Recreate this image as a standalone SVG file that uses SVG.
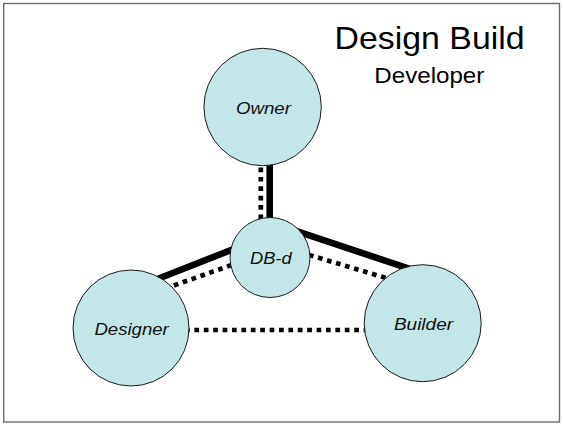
<svg xmlns="http://www.w3.org/2000/svg" width="563" height="424" viewBox="0 0 563 424">
  <style>
    .frame { fill: #ffffff; stroke: #6e6e6e; stroke-width: 1.4; }
    .node circle { fill: #c5e6e9; stroke: #1a1a1a; stroke-width: 1; }
    .node text { font-family: "Liberation Sans", Arial, sans-serif; font-style: italic; font-size: 17px; fill: #111111; text-anchor: middle; }
    .solid { stroke: #000000; stroke-width: 6.6; fill: none; }
    .dotted { stroke: #000000; stroke-width: 4.7; stroke-dasharray: 4.7 4.7; fill: none; }
    .title { font-family: "Liberation Sans", Arial, sans-serif; fill: #000000; text-anchor: middle; }
  </style>

  <rect class="frame" x="3.7" y="3.5" width="555.8" height="418.5"/>

  <!-- titles -->
  <text class="title" x="429.6" y="49.3" font-size="30.5" textLength="190" lengthAdjust="spacingAndGlyphs">Design Build</text>
  <text class="title" x="429.3" y="83" font-size="22" textLength="110" lengthAdjust="spacingAndGlyphs">Developer</text>

  <!-- relationship lines, drawn beneath the circles -->
  <g id="connectors">
    <line class="solid" x1="269.7" y1="150" x2="269.7" y2="232"/>
    <line class="dotted" x1="260.8" y1="167.5" x2="260.8" y2="232"/>
    <line class="solid" x1="155" y1="280" x2="240" y2="246.5"/>
    <line class="dotted" x1="165" y1="288.6" x2="240" y2="262"/>
    <line class="solid" x1="295" y1="230.7" x2="415" y2="270.6"/>
    <line class="dotted" x1="300" y1="252.2" x2="395" y2="280.7"/>
    <line class="dotted" x1="185" y1="330" x2="375" y2="330"/>
  </g>

  <g id="owner" class="node">
    <circle cx="262.6" cy="107" r="58.7"/>
    <text x="263.4" y="114.3" textLength="55" lengthAdjust="spacingAndGlyphs">Owner</text>
  </g>

  <g id="dbd" class="node">
    <circle cx="270" cy="257.5" r="40"/>
    <text x="270.8" y="264" textLength="41.7" lengthAdjust="spacingAndGlyphs">DB-d</text>
  </g>

  <g id="designer" class="node">
    <circle cx="131" cy="328" r="58"/>
    <text x="131.6" y="334.7" textLength="74.4" lengthAdjust="spacingAndGlyphs">Designer</text>
  </g>

  <g id="builder" class="node">
    <circle cx="422.7" cy="323.2" r="58.5"/>
    <text x="423.5" y="329.7" textLength="59.2" lengthAdjust="spacingAndGlyphs">Builder</text>
  </g>
</svg>
